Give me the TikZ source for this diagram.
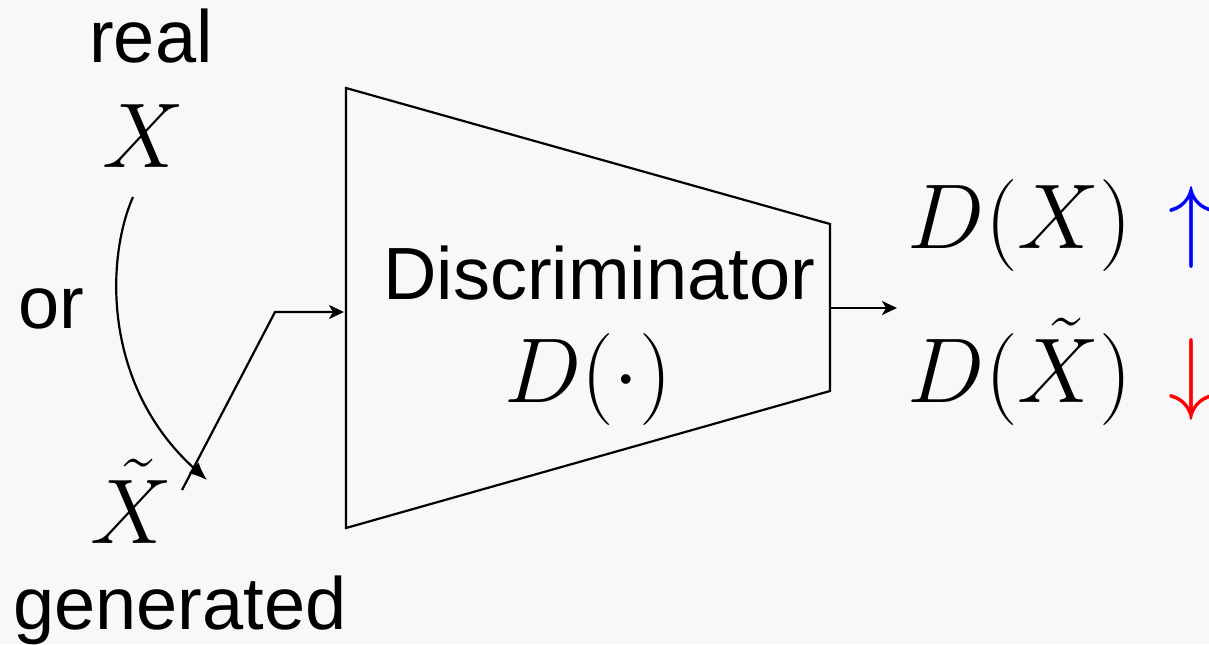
\documentclass[tikz,border=0pt]{standalone}
\usepackage{fix-cm}
\usepackage{fontspec}
\newfontfamily\labelsans{Liberation Sans}
\usetikzlibrary{arrows.meta}
\definecolor{Paper}{HTML}{F8F8FA}
\definecolor{UpBlue}{HTML}{0000FF}
\definecolor{DownRed}{HTML}{FF0000}

\begin{document}
\begin{tikzpicture}[x=0.5pt,y=-0.5pt,
    word/.style={inner sep=0pt,anchor=base,font=\labelsans\fontsize{37}{44}\selectfont},
    sym/.style={inner sep=0pt,anchor=base,font=\fontsize{46}{54}\selectfont},
    wire/.style={line width=1.1pt,-{Stealth[length=7.5pt,width=7pt,inset=2pt]}}]
    \fill[Paper] (0,0) rectangle (1209,644);
    \useasboundingbox (0,0) rectangle (1209,644);

    % inputs
    \node[word] (real) at (151,62) {real};
    \node[sym] (X) at (143,167) {$X$};
    \node[word] (or) at (51,328) {or};
    \node[sym] (Xt) at (131,543) {$\tilde{X}$};
    \node[word] (gen) at (180,629) {generated};

    % discriminator block
    \coordinate (tl) at (346,88);
    \coordinate (tr) at (830,224);
    \coordinate (br) at (830,391);
    \coordinate (bl) at (346,528);
    \draw[line width=1.1pt] (tl) -- (tr) -- (br) -- (bl) -- cycle;
    \node[word] (disc) at (599,299) {Discriminator};
    \node[sym] (Dfun) at (588,402) {$D(\cdot)$};

    % outputs
    \node[sym] (DX) at (1020,248) {$D(X)$};
    \node[sym] (DXt) at (1020,402) {$D(\tilde{X})$};
    \node[sym,text=UpBlue] (up) at (1191,250) {$\uparrow$};
    \node[sym,text=DownRed] (down) at (1191,402) {$\downarrow$};

    % connectors
    \coordinate (swA) at (133,197);
    \coordinate (swB) at (207,480);
    \draw[line width=1.1pt,-{Latex[length=9pt,width=7.5pt]}]
      (swA) .. controls (106,258) and (102,385) .. (swB);
    \coordinate (inA) at (182,490);
    \coordinate (inB) at (275,312);
    \coordinate (inC) at (344,312);
    \draw[wire] (inA) -- (inB) -- (inC);
    \coordinate (outA) at (830,308);
    \coordinate (outB) at (897,308);
    \draw[wire] (outA) -- (outB);
\end{tikzpicture}
\end{document}
